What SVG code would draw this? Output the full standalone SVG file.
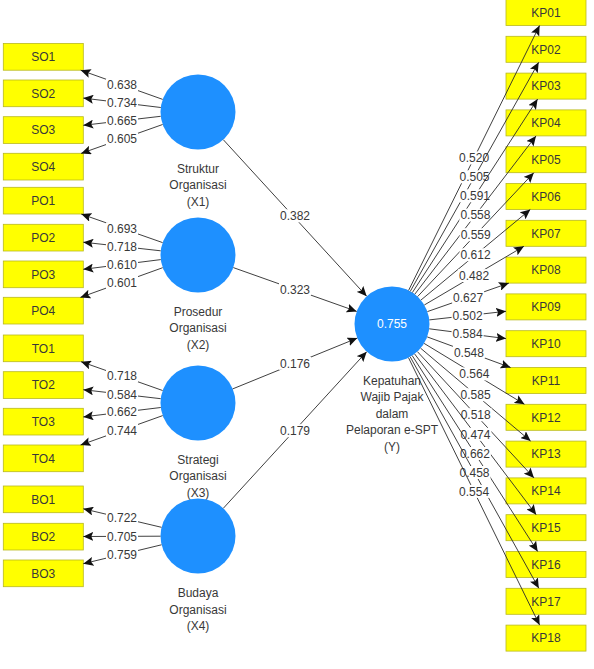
<svg xmlns="http://www.w3.org/2000/svg" width="594" height="669" viewBox="0 0 594 669">
<style>
text{font-family:"Liberation Sans",Arial,sans-serif;font-size:12px;fill:#383838;text-anchor:middle}
.box{fill:#ffff00;stroke:#b8b820;stroke-width:0.8}
.lv{fill:#1e90ff}
.lvt{fill:#ffffff}
.c{stroke:#2a2a2a;stroke-width:0.9;fill:none;marker-end:url(#ah)}
.lb{fill:#ffffff}
</style>
<defs>
<marker id="ah" viewBox="0 0 10 9" refX="10" refY="4.5" markerWidth="10" markerHeight="9" markerUnits="userSpaceOnUse" orient="auto">
<path d="M0,0 L10,4.5 L0,9 L2,4.5 z" fill="#111"/>
</marker>
</defs>
<rect width="594" height="669" fill="#ffffff"/>

<!-- left indicators -->
<g id="SO1"><rect class="box" x="3.3" y="43.5" width="80" height="26.7"/><text x="43.3" y="61">SO1</text></g>
<g id="SO2"><rect class="box" x="3.3" y="80" width="80" height="26.7"/><text x="43.3" y="97.5">SO2</text></g>
<g id="SO3"><rect class="box" x="3.3" y="116.7" width="80" height="26.7"/><text x="43.3" y="134.2">SO3</text></g>
<g id="SO4"><rect class="box" x="3.3" y="153.3" width="80" height="26.7"/><text x="43.3" y="170.8">SO4</text></g>
<g id="PO1"><rect class="box" x="3.3" y="187.3" width="80" height="26.7"/><text x="43.3" y="204.8">PO1</text></g>
<g id="PO2"><rect class="box" x="3.3" y="224.3" width="80" height="26.7"/><text x="43.3" y="241.8">PO2</text></g>
<g id="PO3"><rect class="box" x="3.3" y="261" width="80" height="26.7"/><text x="43.3" y="278.5">PO3</text></g>
<g id="PO4"><rect class="box" x="3.3" y="297.3" width="80" height="26.7"/><text x="43.3" y="314.8">PO4</text></g>
<g id="TO1"><rect class="box" x="3.3" y="335" width="80" height="26.7"/><text x="43.3" y="352.5">TO1</text></g>
<g id="TO2"><rect class="box" x="3.3" y="371.7" width="80" height="26.7"/><text x="43.3" y="389.2">TO2</text></g>
<g id="TO3"><rect class="box" x="3.3" y="408.3" width="80" height="26.7"/><text x="43.3" y="425.8">TO3</text></g>
<g id="TO4"><rect class="box" x="3.3" y="445" width="80" height="26.7"/><text x="43.3" y="462.5">TO4</text></g>
<g id="BO1"><rect class="box" x="3.3" y="486" width="80" height="26.7"/><text x="43.3" y="503.5">BO1</text></g>
<g id="BO2"><rect class="box" x="3.3" y="523.3" width="80" height="26.7"/><text x="43.3" y="540.8">BO2</text></g>
<g id="BO3"><rect class="box" x="3.3" y="560" width="80" height="26.7"/><text x="43.3" y="577.5">BO3</text></g>

<!-- latent variables -->
<g id="X1"><circle class="lv" cx="198" cy="112" r="37.5"/><text x="198" y="172.5">Struktur</text><text x="198" y="189">Organisasi</text><text x="198" y="205.5">(X1)</text></g>
<g id="X2"><circle class="lv" cx="198" cy="255" r="37.5"/><text x="198" y="315.5">Prosedur</text><text x="198" y="332">Organisasi</text><text x="198" y="348.5">(X2)</text></g>
<g id="X3"><circle class="lv" cx="198" cy="403" r="37.5"/><text x="198" y="463.5">Strategi</text><text x="198" y="480">Organisasi</text><text x="198" y="496.5">(X3)</text></g>
<g id="X4"><circle class="lv" cx="198" cy="536" r="37.5"/><text x="198" y="597">Budaya</text><text x="198" y="613.5">Organisasi</text><text x="198" y="630">(X4)</text></g>
<g id="Y"><circle class="lv" cx="392" cy="324" r="37.5"/><text class="lvt" x="392" y="328.3">0.755</text><text x="392" y="384.5">Kepatuhan</text><text x="392" y="401">Wajib Pajak</text><text x="392" y="417.5">dalam</text><text x="392" y="434">Pelaporan e-SPT</text><text x="392" y="450.5">(Y)</text></g>

<!-- right indicators -->
<g id="KP01"><rect class="box" x="506" y="-0.5" width="80" height="26"/><text x="546" y="16.8">KP01</text></g>
<g id="KP02"><rect class="box" x="506" y="36.3" width="80" height="26"/><text x="546" y="53.6">KP02</text></g>
<g id="KP03"><rect class="box" x="506" y="73.1" width="80" height="26"/><text x="546" y="90.4">KP03</text></g>
<g id="KP04"><rect class="box" x="506" y="109.9" width="80" height="26"/><text x="546" y="127.2">KP04</text></g>
<g id="KP05"><rect class="box" x="506" y="146.7" width="80" height="26"/><text x="546" y="164">KP05</text></g>
<g id="KP06"><rect class="box" x="506" y="183.5" width="80" height="26"/><text x="546" y="200.8">KP06</text></g>
<g id="KP07"><rect class="box" x="506" y="220.3" width="80" height="26"/><text x="546" y="237.6">KP07</text></g>
<g id="KP08"><rect class="box" x="506" y="257.1" width="80" height="26"/><text x="546" y="274.4">KP08</text></g>
<g id="KP09"><rect class="box" x="506" y="293.9" width="80" height="26"/><text x="546" y="311.2">KP09</text></g>
<g id="KP10"><rect class="box" x="506" y="330.7" width="80" height="26"/><text x="546" y="348">KP10</text></g>
<g id="KP11"><rect class="box" x="506" y="367.5" width="80" height="26"/><text x="546" y="384.8">KP11</text></g>
<g id="KP12"><rect class="box" x="506" y="404.3" width="80" height="26"/><text x="546" y="421.6">KP12</text></g>
<g id="KP13"><rect class="box" x="506" y="441.1" width="80" height="26"/><text x="546" y="458.4">KP13</text></g>
<g id="KP14"><rect class="box" x="506" y="477.9" width="80" height="26"/><text x="546" y="495.2">KP14</text></g>
<g id="KP15"><rect class="box" x="506" y="514.7" width="80" height="26"/><text x="546" y="532">KP15</text></g>
<g id="KP16"><rect class="box" x="506" y="551.5" width="80" height="26"/><text x="546" y="568.8">KP16</text></g>
<g id="KP17"><rect class="box" x="506" y="588.3" width="80" height="26"/><text x="546" y="605.6">KP17</text></g>
<g id="KP18"><rect class="box" x="506" y="625.1" width="80" height="26"/><text x="546" y="642.4">KP18</text></g>

<g id="connectors">
<!-- X1 loadings -->
<path class="c" d="M162.7,99.4 L80.7,70.2"/>
<path class="c" d="M160.8,107.5 L83.3,98.1"/>
<path class="c" d="M160.7,116.3 L83.3,125.3"/>
<path class="c" d="M162.6,124.5 L81.1,153.4"/>
<rect class="lb" x="106" y="78.3" width="32" height="13"/><text x="122" y="89.1">0.638</text>
<rect class="lb" x="106" y="96.3" width="32" height="13"/><text x="122" y="107.1">0.734</text>
<rect class="lb" x="106" y="114.3" width="32" height="13"/><text x="122" y="125.1">0.665</text>
<rect class="lb" x="106" y="132.4" width="32" height="13"/><text x="122" y="143.2">0.605</text>
<!-- X2 loadings -->
<path class="c" d="M162.6,242.6 L81.3,214.1"/>
<path class="c" d="M160.7,250.8 L83.3,242.2"/>
<path class="c" d="M160.8,259.6 L83.3,269.3"/>
<path class="c" d="M162.7,267.7 L80.4,297.4"/>
<rect class="lb" x="106" y="222.3" width="32" height="13"/><text x="122" y="233.1">0.693</text>
<rect class="lb" x="106" y="240" width="32" height="13"/><text x="122" y="250.8">0.718</text>
<rect class="lb" x="106" y="258" width="32" height="13"/><text x="122" y="268.8">0.610</text>
<rect class="lb" x="106" y="276" width="32" height="13"/><text x="122" y="286.8">0.601</text>
<!-- X3 loadings -->
<path class="c" d="M162.6,390.5 L81.1,361.7"/>
<path class="c" d="M160.7,398.7 L83.3,389.7"/>
<path class="c" d="M160.8,407.5 L83.3,416.9"/>
<path class="c" d="M162.7,415.6 L80.6,445"/>
<rect class="lb" x="106" y="369.6" width="32" height="13"/><text x="122" y="380.4">0.718</text>
<rect class="lb" x="106" y="387.8" width="32" height="13"/><text x="122" y="398.6">0.584</text>
<rect class="lb" x="106" y="405.5" width="32" height="13"/><text x="122" y="416.3">0.662</text>
<rect class="lb" x="106" y="423.8" width="32" height="13"/><text x="122" y="434.6">0.744</text>
<!-- X4 loadings -->
<path class="c" d="M161.5,527.3 L83.3,508.8"/>
<path class="c" d="M160.5,536.2 L83.3,536.5"/>
<path class="c" d="M161.5,544.8 L83.3,563.7"/>
<rect class="lb" x="106" y="511.6" width="32" height="13"/><text x="122" y="522.4">0.722</text>
<rect class="lb" x="106" y="529.8" width="32" height="13"/><text x="122" y="540.6">0.705</text>
<rect class="lb" x="106" y="547.7" width="32" height="13"/><text x="122" y="558.5">0.759</text>

<!-- structural paths -->
<path class="c" d="M223.3,139.7 L366.7,296.3"/>
<rect class="lb" x="279" y="209.3" width="32" height="13"/><text x="295" y="220.1">0.382</text>
<path class="c" d="M233.3,267.6 L356.7,311.4"/>
<rect class="lb" x="279" y="282.8" width="32" height="13"/><text x="295" y="293.6">0.323</text>
<path class="c" d="M232.7,388.9 L357.3,338.1"/>
<rect class="lb" x="279" y="356.8" width="32" height="13"/><text x="295" y="367.6">0.176</text>
<path class="c" d="M223.3,508.3 L366.7,351.7"/>
<rect class="lb" x="279" y="424.2" width="32" height="13"/><text x="295" y="435">0.179</text>

<!-- Y loadings -->
<path class="c" d="M408.6,290.4 L539.6,25.5"/>
<rect class="lb" x="458.1" y="151.4" width="32" height="13"/><text x="474.1" y="162.2">0.520</text>
<path class="c" d="M410.3,291.3 L538.7,62.3"/>
<rect class="lb" x="458.5" y="170.3" width="32" height="13"/><text x="474.5" y="181.1">0.505</text>
<path class="c" d="M412.4,292.5 L537.6,99.1"/>
<rect class="lb" x="459" y="189.3" width="32" height="13"/><text x="475" y="200.1">0.591</text>
<path class="c" d="M414.8,294.2 L536,135.9"/>
<rect class="lb" x="459.4" y="208.6" width="32" height="13"/><text x="475.4" y="219.4">0.558</text>
<path class="c" d="M417.6,296.6 L533.8,172.7"/>
<rect class="lb" x="459.7" y="228.2" width="32" height="13"/><text x="475.7" y="239">0.559</text>
<path class="c" d="M420.9,300.1 L530.3,209.5"/>
<rect class="lb" x="459.6" y="248.3" width="32" height="13"/><text x="475.6" y="259.1">0.612</text>
<path class="c" d="M424.3,305 L523.9,246.3"/>
<rect class="lb" x="458.1" y="269.1" width="32" height="13"/><text x="474.1" y="279.9">0.482</text>
<path class="c" d="M427.4,311.6 L508.9,283.1"/>
<rect class="lb" x="452.1" y="290.9" width="32" height="13"/><text x="468.1" y="301.7">0.627</text>
<path class="c" d="M429.3,319.9 L506,311.3"/>
<rect class="lb" x="451.6" y="309.1" width="32" height="13"/><text x="467.6" y="319.9">0.502</text>
<path class="c" d="M429.2,328.8 L506,338.6"/>
<rect class="lb" x="451.6" y="327.2" width="32" height="13"/><text x="467.6" y="338">0.584</text>
<path class="c" d="M427.2,336.9 L510.6,367.5"/>
<rect class="lb" x="452.9" y="345.7" width="32" height="13"/><text x="468.9" y="356.5">0.548</text>
<path class="c" d="M424.1,343.4 L524.5,404.3"/>
<rect class="lb" x="458.3" y="367.4" width="32" height="13"/><text x="474.3" y="378.2">0.564</text>
<path class="c" d="M420.6,348.2 L530.6,441.1"/>
<rect class="lb" x="459.6" y="388.2" width="32" height="13"/><text x="475.6" y="399">0.585</text>
<path class="c" d="M417.4,351.6 L534,477.9"/>
<rect class="lb" x="459.7" y="408.2" width="32" height="13"/><text x="475.7" y="419">0.518</text>
<path class="c" d="M414.6,353.9 L536.2,514.7"/>
<rect class="lb" x="459.4" y="427.8" width="32" height="13"/><text x="475.4" y="438.6">0.474</text>
<path class="c" d="M412.2,355.6 L537.7,551.5"/>
<rect class="lb" x="458.9" y="447" width="32" height="13"/><text x="474.9" y="457.8">0.662</text>
<path class="c" d="M410.2,356.8 L538.8,588.3"/>
<rect class="lb" x="458.5" y="466" width="32" height="13"/><text x="474.5" y="476.8">0.458</text>
<path class="c" d="M408.5,357.7 L539.6,625.1"/>
<rect class="lb" x="458.1" y="484.9" width="32" height="13"/><text x="474.1" y="495.7">0.554</text>
</g>
</svg>
